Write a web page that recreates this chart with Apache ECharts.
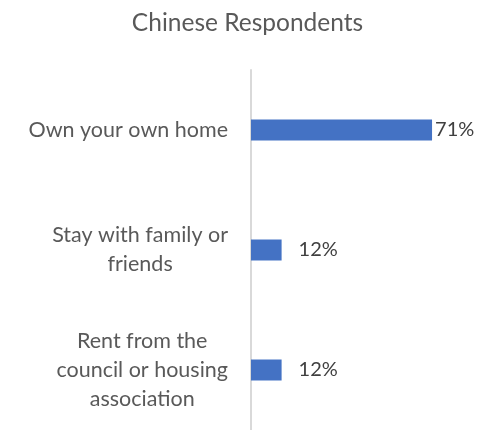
<!DOCTYPE html>
<html>
<head>
<meta charset="utf-8">
<script src="https://cdn.jsdelivr.net/npm/echarts@6/dist/echarts.min.js"></script>
<style>
html,body{margin:0;padding:0;background:#fff;}
#chart{width:495px;height:430px;}
</style>
</head>
<body>
<div id="chart"></div>
<script>
const titleText = 'Chinese Respondents';
const categories = ['Own your own home', 'Stay with family or\nfriends', 'Rent from the\ncouncil or housing\nassociation'];
const values = [0.71, 0.12, 0.12];
const labelGaps = [3, 17, 17];

const FONT = 'Lato';
const chart = echarts.init(document.getElementById('chart'), null, {renderer: 'canvas'});
chart.setOption({
  animation: false,
  title: {
    text: titleText,
    left: 'center',
    top: 6,
    textStyle: {fontFamily: FONT, fontSize: 24.5, fontWeight: 'normal', color: '#595959'}
  },
  grid: {left: 251, right: 40, top: 70, bottom: 0, containLabel: false},
  xAxis: {
    type: 'value', min: 0, max: 0.8, show: false
  },
  yAxis: {
    type: 'category', data: categories, inverse: true,
    axisLine: {show: true, lineStyle: {color: '#d9d9d9', width: 2}},
    axisTick: {show: false},
    splitLine: {show: false},
    axisLabel: {
      margin: 23, align: 'right',
      formatter: v => v.split('\n').map(l => '{c|' + l + '}').join('\n'),
      rich: {c: {align: 'center', fontFamily: FONT, fontSize: 21.5, color: '#595959', lineHeight: 29}}
    }
  },
  series: [{
    type: 'bar',
    barWidth: 21,
    itemStyle: {color: '#4472C4'},
    data: values.map((v, i) => ({value: v, label: {distance: labelGaps[i]}})),
    label: {
      show: true, position: 'right',
      formatter: p => Math.round(p.value * 100) + '%',
      fontFamily: FONT, fontSize: 20, color: '#404040'
    }
  }]
});
</script>
</body>
</html>
